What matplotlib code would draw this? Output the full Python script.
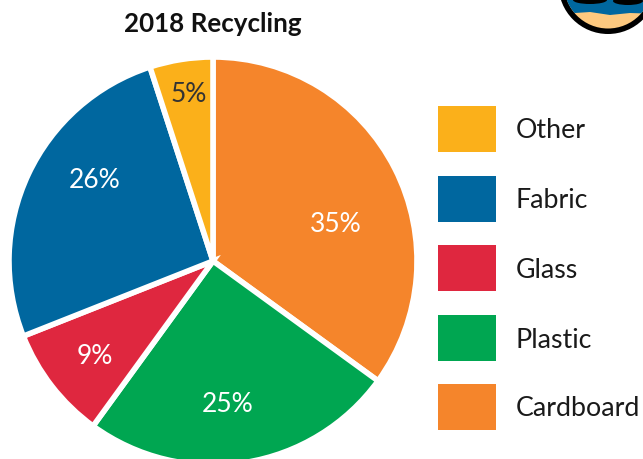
import matplotlib
matplotlib.use('Agg')
import matplotlib.pyplot as plt
from matplotlib.patches import Rectangle, Circle, Polygon, Ellipse

labels = ['Cardboard', 'Plastic', 'Glass', 'Fabric', 'Other']
values = [35, 25, 9, 26, 5]
pct_labels = ['35%', '25%', '9%', '26%', '5%']
colors = ['#F5852B', '#00A651', '#DF273F', '#00679F', '#FBB01A']
pct_colors = ['white', 'white', 'white', 'white', '#333333']
title = '2018 Recycling'

# where the percent labels sit, in pixels
pct_x = [336, 228, 95, 95, 189]
pct_y = [224, 404, 357, 180, 94]

plt.rcParams['font.family'] = ['Lato', 'DejaVu Sans']

fig = plt.figure(figsize=(6.43, 4.59), dpi=100)

cx, cy, r = 213, 261, 204
pie_ax = fig.add_axes([(cx - r) / 643, 1 - (cy + r) / 459, 2 * r / 643, 2 * r / 459])
pie_ax.pie(values, colors=colors, startangle=90, counterclock=False,
           radius=1, wedgeprops={'edgecolor': 'white', 'linewidth': 4})
pie_ax.set_xlim(-1, 1)
pie_ax.set_ylim(-1, 1)

# text goes on a top axes so it stays above the pie
top = fig.add_axes([0, 0, 1, 1])
top.set_xlim(0, 643)
top.set_ylim(459, 0)
top.axis('off')
top.patch.set_alpha(0)

for t, c, x, y in zip(pct_labels, pct_colors, pct_x, pct_y):
    top.text(x, y, t, color=c, fontsize=19, ha='center', va='center')

top.text(213, 24, title, fontsize=18.7, fontweight='bold', color='#111111',
         ha='center', va='center')

# legend drawn by hand, reversed order
ys = [129, 199, 268, 338, 407]
for name, col, y in zip(labels[::-1], colors[::-1], ys):
    top.add_patch(Rectangle((438, y - 23), 58, 46, color=col, lw=0))
    top.text(516, y + 2, name, fontsize=19.3, color='#1a1a1a', va='center', ha='left')

# corner badge
bx, by = 608, -15.5
top.add_patch(Circle((bx, by), 49.5, color='#000000', lw=0))
sand = Circle((bx, by), 44, color='#FDC97F', lw=0)
top.add_patch(sand)
water = Polygon([(555, -20), (660, -20), (660, 14), (630, 13), (610, 15), (590, 12), (575, 13), (555, 12)],
                color='#00679F', lw=0)
top.add_patch(water)
water.set_clip_path(sand)
blob = Ellipse((590, 0), 34, 8, color='#000000', lw=0)
top.add_patch(blob)
blob2 = Ellipse((628, 1), 30, 8, color='#000000', lw=0)
top.add_patch(blob2)

fig.savefig('out.png', dpi=100)
